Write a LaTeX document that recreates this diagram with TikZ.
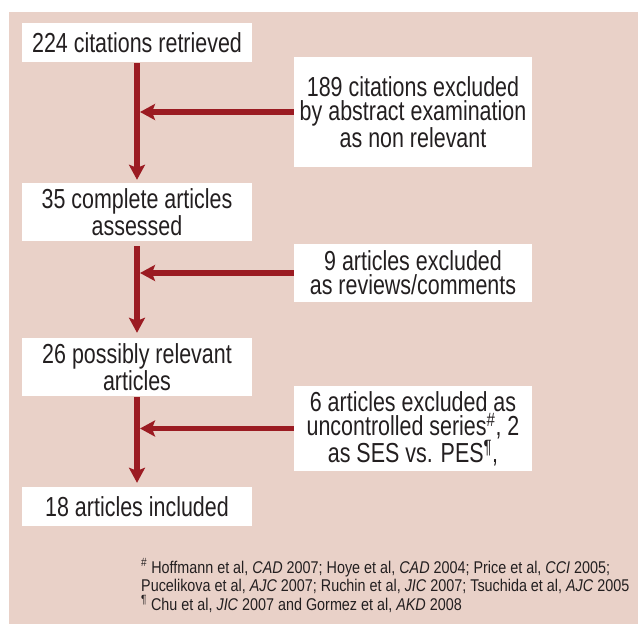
\documentclass[tikz,border=0pt]{standalone}
\usepackage{fontspec}
\setmainfont{Liberation Sans}[FakeStretch=0.78]
\newfontfamily\notefont{Liberation Sans}[FakeStretch=0.845]
\usepackage{xcolor}
\usetikzlibrary{arrows.meta,positioning}
\definecolor{FlowRed}{HTML}{9B1B22}
\definecolor{FlowBack}{HTML}{E9D1C8}
\definecolor{FlowText}{HTML}{231F20}
\tikzset{>=Stealth,every node/.style={text=FlowText},
 stage/.style={fill=white,minimum width=230pt,inner sep=0pt,align=center,
 font=\fontsize{27.5}{21}\selectfont},
 excl/.style={fill=white,minimum width=238pt,inner sep=0pt,align=center,
 font=\fontsize{27.5}{24}\selectfont},
 flow/.style={draw=FlowRed,line width=5.6pt,
 -{Stealth[length=15pt,width=16pt,inset=3pt]}}}
\begin{document}
\begin{tikzpicture}[x=1pt,y=-1pt]
\useasboundingbox (0,0) rectangle (638,624);
\fill[FlowBack] (9,12) rectangle (638,624);
\node[stage,minimum height=39pt] (got) at (137,42.5) {224 citations retrieved};
\node[stage,minimum height=58pt] (full) at (137,212) {35 complete articles\\assessed};
\node[stage,minimum height=58pt] (rel) at (137,367) {26 possibly relevant\\articles};
\node[stage,minimum height=39pt] (inc) at (137,506.5) {18 articles included};
\node[excl,minimum height=110pt] (abs) at (413,112)
 {189 citations excluded\\by abstract examination\\as non relevant};
\node[excl,minimum height=58pt] (rev) at (413,273) {9 articles excluded\\as reviews/comments};
\node[excl,minimum height=85pt] (ser) at (413,428.5)
 {6 articles excluded as\\uncontrolled series\textsuperscript{\#}, 2\\as SES vs. PES\textsuperscript{\P},};
\draw[flow,shorten <=1pt,shorten >=3pt] (got) -- (full);
\draw[flow,shorten <=5pt,shorten >=5pt] (full) -- (rel);
\draw[flow,shorten <=1pt,shorten >=4pt] (rel) -- (inc);
\foreach \n in {abs,rev,ser}
 \draw[flow,shorten >=3pt] (\n.west) -- (\n.west -| got.south);
% references for the excluded series
\node[anchor=base west,inner sep=0pt,align=left,font=\notefont\fontsize{17}{18.5}\selectfont] (refs) at (141,610)
 {\textsuperscript{\#} Hoffmann et al, \textit{CAD} 2007; Hoye et al, \textit{CAD} 2004; Price et al, \textit{CCI} 2005;\\
 Pucelikova et al, \textit{AJC} 2007; Ruchin et al, \textit{JIC} 2007; Tsuchida et al, \textit{AJC} 2005\\
 \textsuperscript{\P} Chu et al, \textit{JIC} 2007 and Gormez et al, \textit{AKD} 2008};
\end{tikzpicture}
\end{document}
